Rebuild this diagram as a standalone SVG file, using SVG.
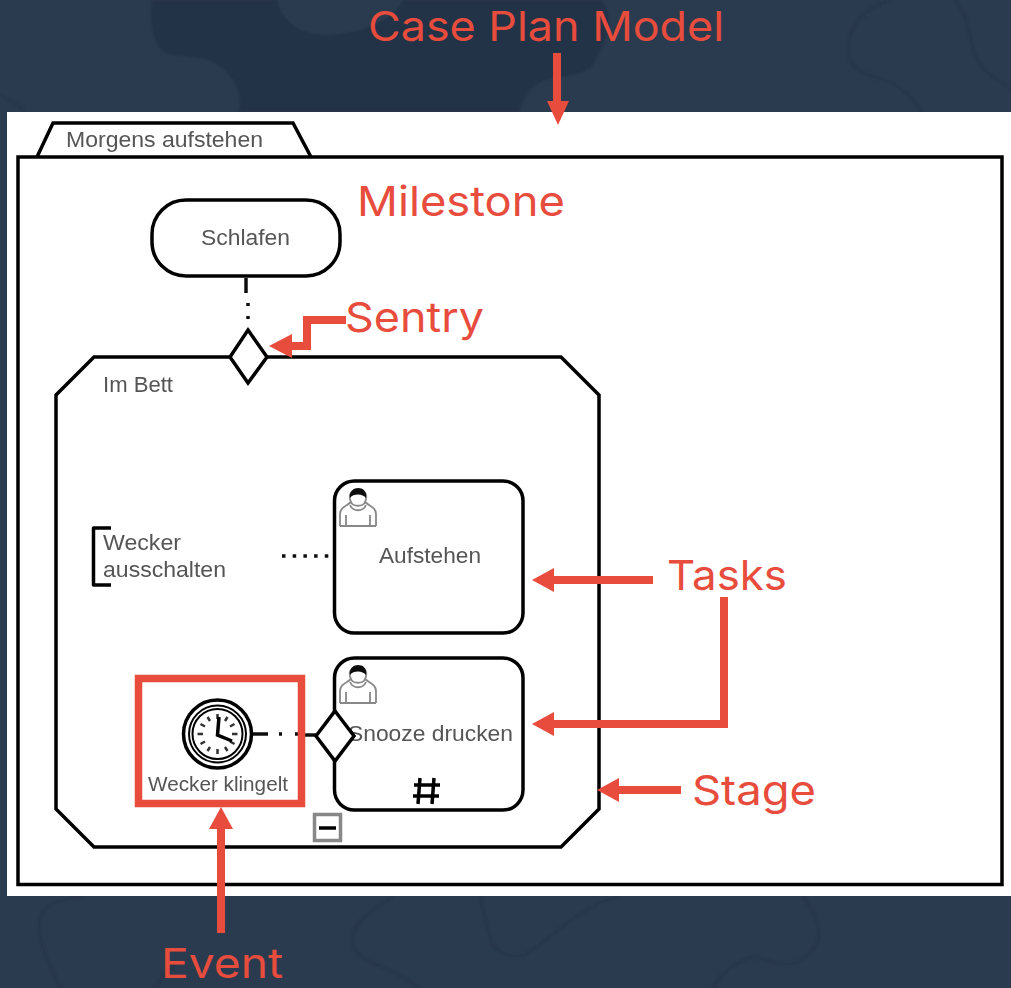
<svg xmlns="http://www.w3.org/2000/svg" width="1011" height="988" viewBox="0 0 1011 988">
<style>
.lab{font-family:Inter,"Liberation Sans",sans-serif;font-size:41px;fill:#e74c3c}
.t{font-family:"Liberation Sans",Arial,sans-serif;font-size:22px;fill:#555}
.s{fill:none;stroke:#000;stroke-width:3.5;stroke-linejoin:round}
.w{fill:#fff;stroke:#000;stroke-width:3.5;stroke-linejoin:miter}
.d{fill:none;stroke:#111;stroke-width:3.5}
.r{fill:none;stroke:#e74c3c;stroke-width:8}
.h{fill:#e74c3c}
.u{fill:none;stroke:#888;stroke-width:1.8}
.b{filter:url(#soft)}
.bl{fill:none;stroke:#263649;stroke-width:2.500}
</style>
<defs>
<filter id="soft" x="-5%" y="-5%" width="110%" height="110%"><feGaussianBlur stdDeviation="0.5"/></filter>
<filter id="soft2" x="-5%" y="-5%" width="110%" height="110%"><feGaussianBlur stdDeviation="1.2"/></filter>
<g id="user">
<path class="u" d="M0 36V24C0 17 7 16 11 12M36 36V24C36 17 29 16 25 12M0 36H36M6 36V25M30 36V25M10 15C13 22 23 22 26 15"/>
<path class="u" d="M11 12C8 6 10 0 18 0C26 0 28 6 25 12C23 17 13 17 11 12Z" fill="#fff"/>
<path d="M10 8C9 1 14-2 18-2C23-2 27 1 26 8C23 4 14 3 10 8Z" fill="#111"/>
</g>
</defs>
<g id="background">
<rect width="1011" height="988" fill="#2b3b4f"/>
<g filter="url(#soft2)">
<path d="M152 0C150 25 152 42 165 52C180 60 205 52 222 68C238 82 242 95 239 112H520C522 98 530 85 545 80C565 74 585 78 595 60C610 35 615 15 600 0Z" fill="#203146"/>
<path d="M277 0C280 20 300 35 325 35C360 35 395 20 403 0Z" fill="#2b3b4f"/>
<path class="bl" d="M890 0C860 10 848 30 848 50C848 65 860 75 890 82C905 90 915 100 922 112M955 0C968 15 970 40 975 55C985 75 998 80 1011 88"/>
<path class="bl" d="M84 896C55 900 39 905 39 925C39 945 50 965 60 988M393 896C365 915 352 925 352 940C352 955 368 962 385 968C400 975 410 980 419 988M480 896C485 915 488 935 493 945C500 955 515 958 525 955C540 948 580 905 619 896M803 896C812 908 819 920 819 935C819 950 800 964 787 964C770 964 755 952 745 960C730 965 720 975 713 988M155 988C160 978 168 970 175 965"/>
<path class="bl" d="M0 95C10 100 20 105 24 112M0 880"/>
</g>
</g>
<rect id="panel" x="7" y="112" width="1004" height="784" fill="#fff"/>
<g id="case-plan" class="b">
<path class="w" d="M37 157L53 123H293L311 157"/>
<rect class="w" x="18" y="157" width="984" height="727.500"/>
<text class="t" x="66" y="147" textLength="197" lengthAdjust="spacingAndGlyphs">Morgens aufstehen</text>
</g>
<g id="stage" class="b">
<path class="w" d="M94 357H561L599 395V809L561 847H94L56 809V395Z"/>
<text class="t" x="103" y="392" textLength="70" lengthAdjust="spacingAndGlyphs">Im Bett</text>
<rect x="314.500" y="814.500" width="26" height="26" fill="#fff" stroke="#888" stroke-width="3.500"/>
<path d="M319 828H336" stroke="#000" stroke-width="3.500"/>
</g>
<g id="milestone" class="b">
<rect class="w" x="152" y="200" width="188" height="76" rx="34"/>
<text class="t" x="201" y="245" textLength="89" lengthAdjust="spacingAndGlyphs">Schlafen</text>
</g>
<g id="connectors" class="b">
<path class="d" d="M246 278V293"/>
<path class="d" d="M248 303V306M248 316V319"/>
<path class="d" d="M282 556H330" stroke-dasharray="3.500 7.200"/>
<path class="d" d="M253 734H268"/>
<path class="d" d="M279 734H282M295 734H298"/>
<path class="d" d="M305 735H316"/>
</g>
<g id="sentry-top" class="b">
<path class="w" d="M248 330L267 357L248 383L230 357Z"/>
</g>
<g id="task-aufstehen" class="b">
<rect class="w" x="334.500" y="481" width="188.500" height="152" rx="20"/>
<use href="#user" x="340" y="490"/>
<text class="t" x="379" y="563" textLength="102" lengthAdjust="spacingAndGlyphs">Aufstehen</text>
</g>
<g id="planning-table" class="b">
<path class="s" d="M111 528H93.500V585H111"/>
<text class="t" x="103" y="550" textLength="78" lengthAdjust="spacingAndGlyphs">Wecker</text>
<text class="t" x="103" y="577" textLength="123" lengthAdjust="spacingAndGlyphs">ausschalten</text>
</g>
<g id="task-snooze" class="b">
<rect class="w" x="334.500" y="658" width="188.500" height="152" rx="20"/>
<use href="#user" x="340" y="667"/>
<text class="t" x="348" y="741" textLength="165" lengthAdjust="spacingAndGlyphs">Snooze drucken</text>
<path d="M420 778L418 804M434 778L432 804M414 785H440M413 796H439" fill="none" stroke="#000" stroke-width="3.500"/>
</g>
<g id="sentry-snooze" class="b">
<path d="M335 711L354 736L335 761L316 736Z" fill="#fff" stroke="#000" stroke-width="3.500"/>
</g>
<g id="event" class="b">
<circle cx="217.500" cy="734" r="34" fill="#fff" stroke="#000" stroke-width="3.500"/>
<circle cx="217.500" cy="734" r="28.500" fill="none" stroke="#000" stroke-width="2"/>
<circle cx="217.500" cy="734" r="25" fill="none" stroke="#000" stroke-width="2"/>
<path d="M217.500 714V719M217.500 749V754M197.500 734H203M232 734H237.500M207.500 717L210 721M225 747L227.500 751M200.500 724L205 726.500M230 741.500L234.500 744M227.500 717L225 721M210 747L207.500 751M234.500 724L230 726.500M205 741.500L200.500 744" stroke="#333" stroke-width="2.500" fill="none"/>
<path d="M219 717L217.500 735L232 741" fill="none" stroke="#000" stroke-width="3.500"/>
<text class="t" x="148" y="791" font-size="20" textLength="140" lengthAdjust="spacingAndGlyphs" style="font-size:20px">Wecker klingelt</text>
</g>
<g id="annotations">
<rect x="138.500" y="678.500" width="163" height="125" fill="none" stroke="#e74c3c" stroke-width="7.500"/>
<text class="lab" x="368" y="41" textLength="356" lengthAdjust="spacingAndGlyphs">Case Plan Model</text>
<path class="r" d="M557 53V102"/><path class="h" d="M547 101H569L558 125Z"/>
<text class="lab" x="357" y="216" textLength="208" lengthAdjust="spacingAndGlyphs">Milestone</text>
<text class="lab" x="345" y="332" textLength="139" lengthAdjust="spacingAndGlyphs">Sentry</text>
<path class="r" d="M346 320H307V346H288"/><path class="h" d="M269 346L292 334V358Z"/>
<text class="lab" x="667" y="590" textLength="120" lengthAdjust="spacingAndGlyphs">Tasks</text>
<path class="r" d="M653 580H552"/><path class="h" d="M532 580L554 568V592Z"/>
<path class="r" d="M724 597V724H552"/><path class="h" d="M532 724L554 712V736Z"/>
<text class="lab" x="692" y="805" textLength="124" lengthAdjust="spacingAndGlyphs">Stage</text>
<path class="r" d="M681 790H618"/><path class="h" d="M597 790L619 778V802Z"/>
<path class="r" d="M221 933V826"/><path class="h" d="M221 807L233 829H209Z"/>
<text class="lab" x="161" y="978" textLength="122" lengthAdjust="spacingAndGlyphs">Event</text>
</g>
</svg>
